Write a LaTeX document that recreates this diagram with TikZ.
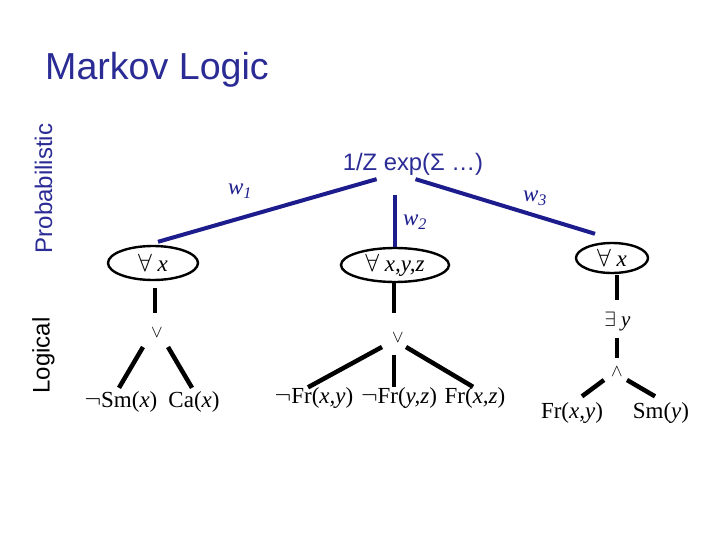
\documentclass[tikz,border=0pt]{standalone}
\usepackage{fontspec}
\setmainfont{Liberation Serif}
\newfontfamily\arialf{Liberation Sans}
\usetikzlibrary{shapes.geometric}
\definecolor{ttl}{RGB}{43,43,150}
\definecolor{bl}{RGB}{28,28,140}
\begin{document}
\begin{tikzpicture}[x=1pt,y=-1pt,
  ttlfont/.style={font=\arialf\fontsize{37.6}{40}\selectfont, text=ttl, inner sep=0pt},
  sidefont/.style={font=\arialf\fontsize{24}{26}\selectfont, inner sep=0pt, rotate=90, anchor=base},
  lbl/.style={font=\fontsize{23}{25}\selectfont, inner sep=0pt, anchor=base},
  quant/.style={ellipse, draw, line width=2.4pt, inner sep=0pt, font=\fontsize{23}{25}\selectfont},
  opnode/.style={font=\fontsize{17}{19}\selectfont, inner sep=0pt},
  blk/.style={line width=4.5pt},
  blu/.style={line width=4pt, draw=bl},
  wlbl/.style={font=\fontsize{23}{25}\selectfont, text=bl, inner sep=0pt},
]
\useasboundingbox (0,0) rectangle (720,540);
\fill[white] (0,0) rectangle (720,540);

% titles
\node[ttlfont, anchor=base west] (title) at (45,80) {Markov Logic};
\node[sidefont, text=ttl] (prob) at (52,188.5) {Probabilistic};
\node[sidefont, text=black] (logi) at (49.5,355.5) {Logical};

% root
\node[font=\arialf\fontsize{23.8}{26}\selectfont, text=ttl, inner sep=0pt, anchor=base] (root) at (413,171) {1/Z exp(Σ …)};

% quantifier ellipses
\node[quant, minimum width=90pt, minimum height=34pt] (ellL) at (153,263) {$\forall$ \textit{x}};
\node[quant, minimum width=108pt, minimum height=34pt] (ellM) at (395,265) {$\forall$ \textit{x,y,z}};
\node[quant, minimum width=72pt, minimum height=30pt] (ellR) at (612,258) {$\forall$ \textit{x}};

% weights
\draw[blu] ([shift={(34pt,-3pt)}]root.south west) -- ([shift={(5pt,3pt)}]ellL.north);
\draw[blu, shorten <=19pt] (ellM.north |- root.south) -- (ellM.north);
\draw[blu] ([shift={(2.5pt,-3pt)}]root.south) -- ([shift={(-17pt,8pt)}]ellR.north);
\node[wlbl] (w1) at (240,191) {\textit{w}\textsubscript{\textit{1}}};
\node[wlbl] (w2) at (415,222) {\textit{w}\textsubscript{\textit{2}}};
\node[wlbl] (w3) at (535,198) {\textit{w}\textsubscript{\textit{3}}};

% left formula
\node[opnode] (orL) at (157,333) {$\vee$};
\node[lbl] (smx) at (121,407) {$\neg$Sm(\textit{x})};
\node[lbl] (cax) at (194,407) {Ca(\textit{x})};
\draw[blk] ([shift={(2pt,-7pt)}]ellL.south) -- ([shift={(-2pt,20pt)}]orL.center);
\draw[blk] ([shift={(-14pt,-14pt)}]orL.center) -- ([shift={(-2pt,3pt)}]smx.north);
\draw[blk] ([shift={(11pt,-14pt)}]orL.center) -- ([shift={(-2pt,3pt)}]cax.north);

% middle formula
\node[opnode] (orM) at (398,338) {$\vee$};
\node[lbl] (frxy) at (314,403) {$\neg$Fr(\textit{x,y})};
\node[lbl] (fryz) at (399,403) {$\neg$Fr(\textit{y,z})};
\node[lbl] (frxz) at (475,403) {Fr(\textit{x,z})};
\draw[blk] ([shift={(-1pt,0pt)}]ellM.south) -- ([shift={(-4pt,25pt)}]orM.center);
\draw[blk] ([shift={(-16pt,-9pt)}]orM.center) -- ([shift={(-6pt,-0.5pt)}]frxy.north);
\draw[blk] ([shift={(-4pt,-17pt)}]orM.center) -- ([shift={(-5pt,-0.5pt)}]fryz.north);
\draw[blk] ([shift={(8pt,-9pt)}]orM.center) -- ([shift={(-2pt,0pt)}]frxz.north);

% right formula
\node[font=\fontsize{21}{23}\selectfont, inner sep=0pt] (ex) at (617.5,322) {$\exists$ \textit{y}};
\node[opnode] (andR) at (617,372) {$\wedge$};
\node[lbl] (frxy2) at (572,418) {Fr(\textit{x,y})};
\node[lbl] (smy) at (661,418) {Sm(\textit{y})};
\draw[blk] ([shift={(5pt,-1pt)}]ellR.south) -- ([shift={(-0.5pt,22pt)}]ex.center);
\draw[blk] ([shift={(-0.5pt,-16pt)}]ex.center) -- ([shift={(0pt,14pt)}]andR.center);
\draw[blk] ([shift={(-13pt,-8pt)}]andR.center) -- ([shift={(10pt,5.5pt)}]frxy2.north);
\draw[blk] ([shift={(10pt,-8pt)}]andR.center) -- ([shift={(-6pt,5.5pt)}]smy.north);
\end{tikzpicture}
\end{document}
